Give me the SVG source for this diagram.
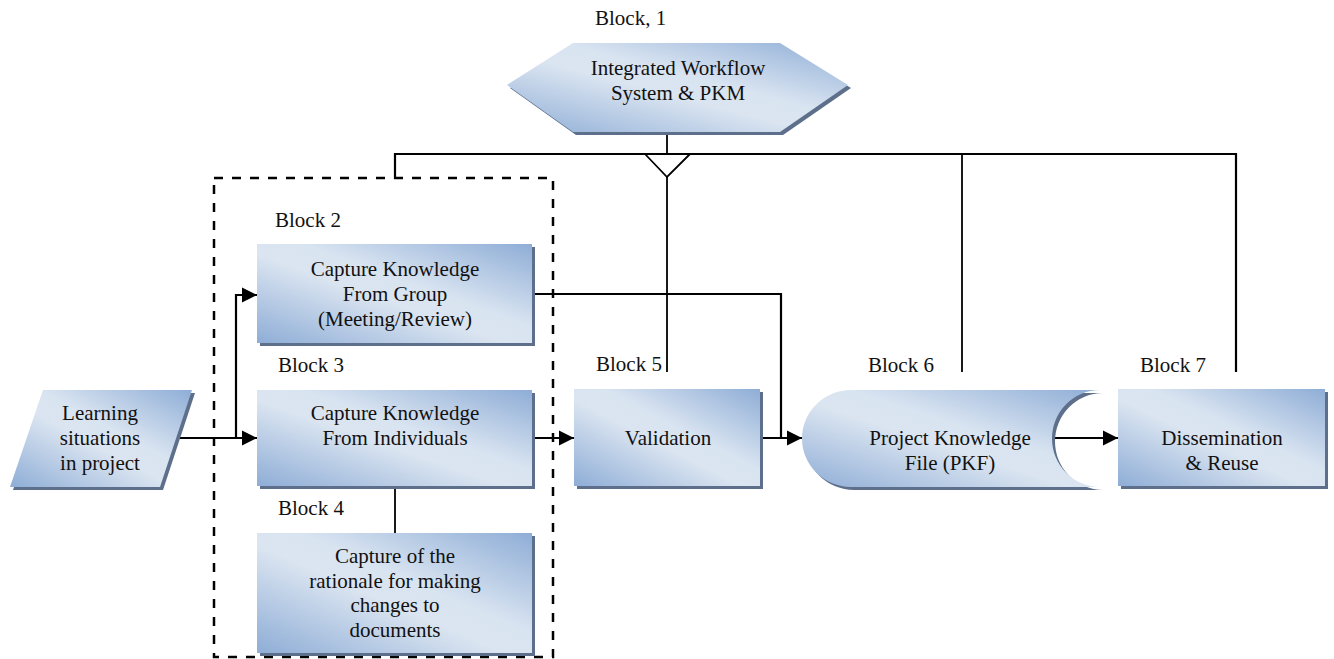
<svg xmlns="http://www.w3.org/2000/svg" width="1334" height="659" viewBox="0 0 1334 659" font-family="'Liberation Serif', 'Times New Roman', 'DejaVu Serif', serif">
  <defs>
    <!-- diagonal fill: darker blue at two opposite corners, pale band through the middle -->
    <linearGradient id="fill" x1="0" y1="1" x2="1" y2="0">
      <stop offset="0" stop-color="#8eadd6"/>
      <stop offset="0.45" stop-color="#dbe5f1"/>
      <stop offset="0.58" stop-color="#d9e4f1"/>
      <stop offset="1" stop-color="#8eadd6"/>
    </linearGradient>
    <marker id="arrow" markerUnits="userSpaceOnUse" markerWidth="16" markerHeight="16" refX="15" refY="8" orient="auto">
      <path d="M0,0.5 L15,8 L0,15.5 Z" fill="#000"/>
    </marker>
    <style>
      .shadow { fill: #5d6f8a; }
      .shape { fill: url(#fill); }
      text { font-family: 'Liberation Serif', 'Times New Roman', 'DejaVu Serif', serif; font-size: 21px; fill: #111; }
      .c { text-anchor: middle; }
      .wire { fill: none; stroke: #000; stroke-width: 2.2; }
      .thin { fill: none; stroke: #000; stroke-width: 1.8; }
      .arrowed { marker-end: url(#arrow); }
    </style>
  </defs>

  <!-- dashed grouping frame around blocks 2-4 -->
  <rect x="214" y="178" width="339" height="479" fill="none" stroke="#000" stroke-width="2.5" stroke-dasharray="9 9"/>

  <g id="connectors">
    <!-- bus from block 1 -->
    <line class="thin" x1="667" y1="132" x2="667" y2="154"/>
    <polyline class="wire" points="395,179 395,154 1236,154 1236,372"/>
    <polyline class="thin" points="645,154 667,177 690,154"/>
    <line class="thin" x1="667" y1="177" x2="667" y2="372"/>
    <line class="thin" x1="962" y1="154" x2="962" y2="372"/>
    <!-- input to blocks 2 and 3 -->
    <line class="wire arrowed" x1="177" y1="438" x2="257" y2="438"/>
    <polyline class="wire arrowed" points="236,438 236,295 257,295"/>
    <!-- block 3 to block 4 -->
    <line class="thin" x1="395" y1="486" x2="395" y2="533"/>
    <!-- block 3 to validation -->
    <line class="wire arrowed" x1="532" y1="438" x2="574" y2="438"/>
    <!-- block 2 joins validation output -->
    <polyline class="wire" points="532,294 781,294 781,438"/>
    <line class="wire arrowed" x1="760" y1="438" x2="802" y2="438"/>
    <!-- PKF to dissemination -->
    <line class="wire arrowed" x1="1052" y1="438" x2="1118" y2="438"/>
  </g>

  <g id="block1">
    <text x="595" y="25">Block, 1</text>
    <polygon class="shadow" points="510,88 576,46 783,46 851,88 783,135 576,135"/>
    <polygon class="shape" points="507,85 573,43 780,43 848,85 780,132 573,132"/>
    <text class="c" x="678" y="75">Integrated Workflow</text>
    <text class="c" x="678" y="100">System &amp; PKM</text>
  </g>

  <g id="learning">
    <polygon class="shadow" points="46,393 195,393 163,490 13,490"/>
    <polygon class="shape" points="43,390 192,390 160,487 10,487"/>
    <text class="c" x="100" y="420">Learning</text>
    <text class="c" x="100" y="445">situations</text>
    <text class="c" x="100" y="470">in project</text>
  </g>

  <g id="block2">
    <text x="275" y="227">Block 2</text>
    <rect class="shadow" x="260" y="247" width="275" height="99"/>
    <rect class="shape" x="257" y="244" width="275" height="99"/>
    <text class="c" x="395" y="276">Capture Knowledge</text>
    <text class="c" x="395" y="301">From Group</text>
    <text class="c" x="395" y="326">(Meeting/Review)</text>
  </g>

  <g id="block3">
    <text x="278" y="372">Block 3</text>
    <rect class="shadow" x="260" y="393" width="275" height="96"/>
    <rect class="shape" x="257" y="390" width="275" height="96"/>
    <text class="c" x="395" y="420">Capture Knowledge</text>
    <text class="c" x="395" y="445">From Individuals</text>
  </g>

  <g id="block4">
    <text x="278" y="515">Block 4</text>
    <rect class="shadow" x="260" y="536" width="275" height="120"/>
    <rect class="shape" x="257" y="533" width="275" height="120"/>
    <text class="c" x="395" y="563">Capture of the</text>
    <text class="c" x="395" y="588">rationale for making</text>
    <text class="c" x="395" y="612">changes to</text>
    <text class="c" x="395" y="637">documents</text>
  </g>

  <g id="block5">
    <text x="596" y="371">Block 5</text>
    <rect class="shadow" x="577" y="392" width="186" height="97"/>
    <rect class="shape" x="574" y="389" width="186" height="97"/>
    <text class="c" x="668" y="445">Validation</text>
  </g>

  <g id="block6">
    <text x="868" y="372">Block 6</text>
    <path class="shadow" d="M854,393 H1103 A48 48.5 0 0 0 1103,490 H854 A49 48.5 0 0 1 854,393 Z"/>
    <path class="shape" d="M851,390 H1100 A48 48.5 0 0 0 1100,487 H851 A49 48.5 0 0 1 851,390 Z"/>
    <text class="c" x="950" y="445">Project Knowledge</text>
    <text class="c" x="950" y="470">File (PKF)</text>
  </g>

  <g id="block7">
    <text x="1140" y="372">Block 7</text>
    <rect class="shadow" x="1121" y="392" width="207" height="97"/>
    <rect class="shape" x="1118" y="389" width="207" height="97"/>
    <text class="c" x="1222" y="445">Dissemination</text>
    <text class="c" x="1222" y="470">&amp; Reuse</text>
  </g>
</svg>
